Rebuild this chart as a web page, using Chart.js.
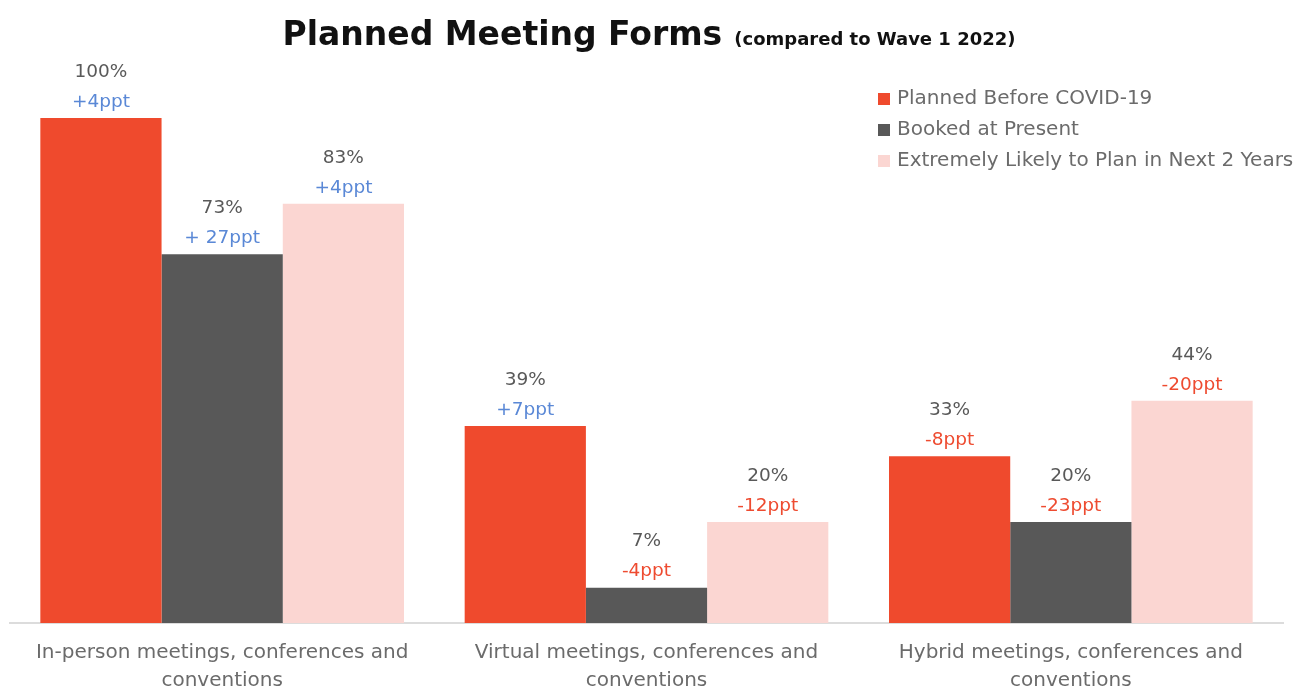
<!DOCTYPE html>
<html>
<head>
<meta charset="utf-8">
<script src="https://cdn.jsdelivr.net/npm/chart.js@4.4.0/dist/chart.umd.min.js"></script>
<style>
  html, body { margin: 0; padding: 0; background: #fff; }
  #wrap { width: 1293px; height: 686px; }
</style>
</head>
<body>
<div id="wrap"><canvas id="grafico" width="1293" height="686"></canvas></div>
<script>
// datos del grafico
const categorias = [
  ['In-person meetings, conferences and', 'conventions'],
  ['Virtual meetings, conferences and', 'conventions'],
  ['Hybrid meetings, conferences and', 'conventions']
];
const series = ['Planned Before COVID-19', 'Booked at Present', 'Extremely Likely to Plan in Next 2 Years'];
const planeadoAntes = [100, 39, 33];
const reservadoAhora = [73, 7, 20];
const probableFuturo = [83, 20, 44];
// cambio frente a Wave 1 2022 (ppt)
const cambioAntes = ['+4ppt', '+7ppt', '-8ppt'];
const cambioAhora = ['+ 27ppt', '-4ppt', '-23ppt'];
const cambioFuturo = ['+4ppt', '-12ppt', '-20ppt'];

const colores = ['#ef4a2d', '#585858', '#fbd6d2'];
const fuente = '"DejaVu Sans", "Open Sans", sans-serif';

// titulo con dos tamaños
const pluginTitulo = {
  id: 'titulo',
  afterDraw(chart) {
    const ctx = chart.ctx;
    ctx.save();
    ctx.textBaseline = 'alphabetic';
    ctx.fillStyle = '#111';
    const t1 = 'Planned Meeting Forms';
    const t2 = '(compared to Wave 1 2022)';
    const f1 = 'bold 33px "DejaVu Sans", sans-serif';
    const f2 = 'bold 18px "DejaVu Sans", sans-serif';
    ctx.font = f1;
    const w1 = ctx.measureText(t1).width;
    ctx.font = f2;
    const w2 = ctx.measureText(t2).width;
    const x0 = 649 - (w1 + 12 + w2) / 2;
    ctx.font = f1;
    ctx.fillText(t1, x0, 45);
    ctx.font = f2;
    ctx.fillText(t2, x0 + w1 + 12, 45);
    ctx.restore();
  }
};

// leyenda a la derecha arriba
const pluginLeyenda = {
  id: 'leyenda',
  afterDraw(chart) {
    const ctx = chart.ctx;
    ctx.save();
    ctx.font = '20px ' + fuente;
    ctx.textBaseline = 'middle';
    chart.data.datasets.forEach((ds, i) => {
      const y = 99 + i * 31;
      ctx.fillStyle = ds.backgroundColor;
      ctx.fillRect(878, y - 6, 12, 12);
      ctx.fillStyle = '#6b6b6b';
      ctx.fillText(ds.label, 897, y);
    });
    ctx.restore();
  }
};

// etiquetas de valor y cambio encima de cada barra
const pluginEtiquetas = {
  id: 'etiquetas',
  afterDatasetsDraw(chart) {
    const ctx = chart.ctx;
    ctx.save();
    ctx.textAlign = 'center';
    ctx.textBaseline = 'middle';
    ctx.font = '18.5px ' + fuente;
    chart.data.datasets.forEach((ds, i) => {
      chart.getDatasetMeta(i).data.forEach((bar, j) => {
        ctx.fillStyle = '#595959';
        ctx.fillText(ds.data[j] + '%', bar.x, bar.y - 46);
        const c = ds.cambios[j];
        ctx.fillStyle = c.trim().startsWith('-') ? '#ee4b30' : '#5a88d6';
        ctx.fillText(c, bar.x, bar.y - 16);
      });
    });
    ctx.restore();
  }
};

const ctx = document.getElementById('grafico').getContext('2d');
const grafico = new Chart(ctx, {
  type: 'bar',
  data: {
    labels: categorias,
    datasets: [
      { label: series[0], data: planeadoAntes, cambios: cambioAntes, backgroundColor: colores[0] },
      { label: series[1], data: reservadoAhora, cambios: cambioAhora, backgroundColor: colores[1] },
      { label: series[2], data: probableFuturo, cambios: cambioFuturo, backgroundColor: colores[2] }
    ]
  },
  options: {
    responsive: false,
    animation: false,
    layout: { padding: { top: 118, left: 10, right: 10, bottom: 0 } },
    datasets: { bar: { barPercentage: 1, categoryPercentage: 0.857 } },
    plugins: {
      legend: { display: false },
      title: { display: false },
      tooltip: { enabled: false }
    },
    scales: {
      x: {
        grid: { display: false },
        border: { display: true, color: '#dcdcdc', width: 2 },
        ticks: {
          color: '#6b6b6b',
          padding: 8,
          maxRotation: 0,
          font: { family: fuente, size: 20, lineHeight: 1.4 }
        },
        afterFit(s) { s.height = 63; }
      },
      y: {
        display: false,
        min: 0,
        max: 100
      }
    }
  },
  plugins: [pluginTitulo, pluginLeyenda, pluginEtiquetas]
});
</script>
</body>
</html>
